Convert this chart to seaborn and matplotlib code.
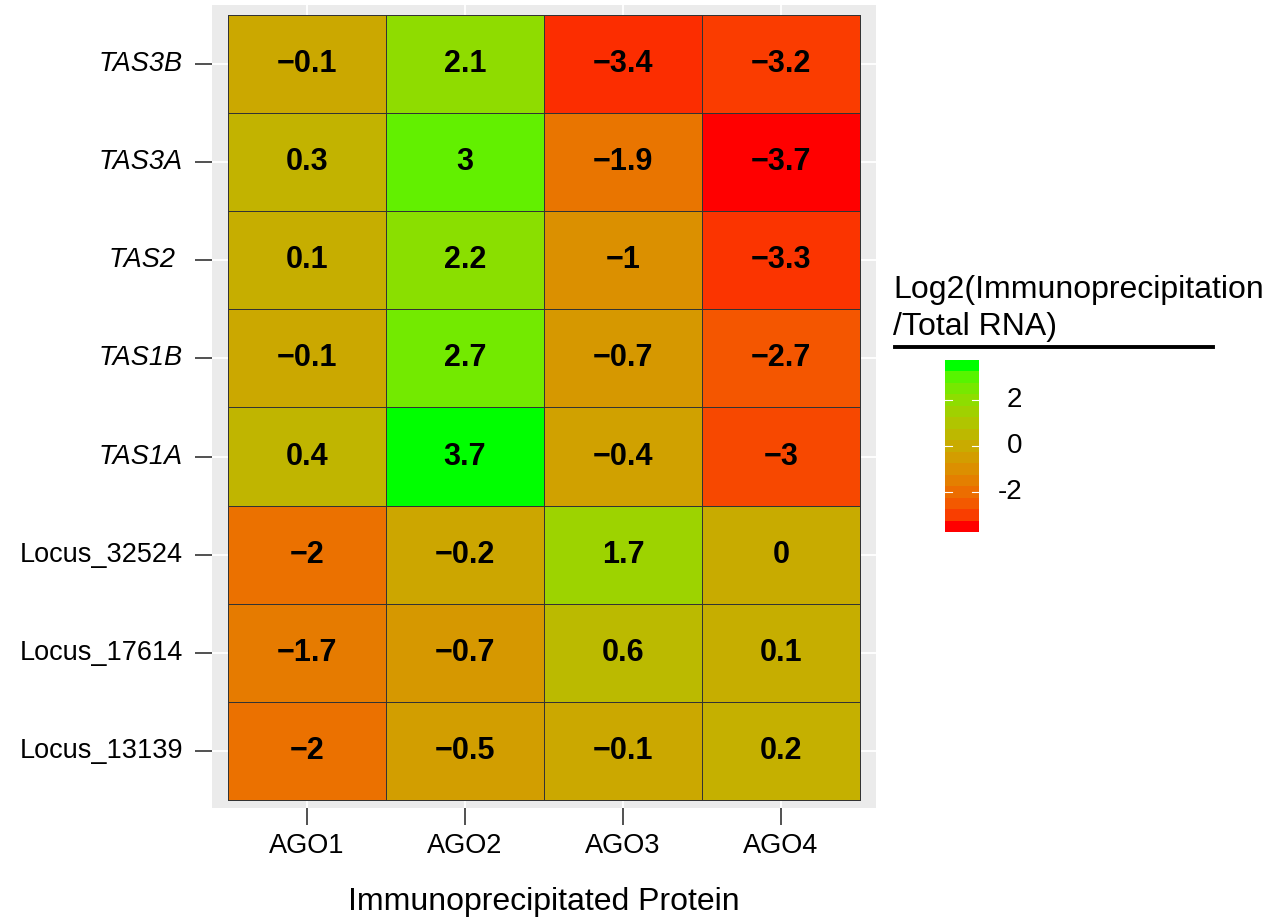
import numpy as np
import pandas as pd
import matplotlib
matplotlib.use("Agg")
import matplotlib.pyplot as plt
from matplotlib.colors import ListedColormap, Normalize
from matplotlib.cm import ScalarMappable
from matplotlib.lines import Line2D
import seaborn as sns

# ---- data ----------------------------------------------------------------
loci = ["TAS3B", "TAS3A", "TAS2 ", "TAS1B", "TAS1A",
        "Locus_32524", "Locus_17614", "Locus_13139"]
proteins = ["AGO1", "AGO2", "AGO3", "AGO4"]
ago1 = [-0.1, 0.3, 0.1, -0.1, 0.4, -2.0, -1.7, -2.0]
ago2 = [2.1, 3.0, 2.2, 2.7, 3.7, -0.2, -0.7, -0.5]
ago3 = [-3.4, -1.9, -1.0, -0.7, -0.4, 1.7, 0.6, -0.1]
ago4 = [-3.2, -3.7, -3.3, -2.7, -3.0, 0.0, 0.1, 0.2]
legend_ticks = [-2, 0, 2]
vmin, vmax = -3.7, 3.7

df = pd.DataFrame({"AGO1": ago1, "AGO2": ago2, "AGO3": ago3, "AGO4": ago4},
                  index=loci)[proteins]
labels = df.map(lambda v: f"{v:g}".replace("-", "\u2212"))


# ---- red -> green gradient interpolated in CIE Lab -------------------------
def _srgb_to_lab(rgb):
    rgb = np.asarray(rgb, float)
    lin = np.where(rgb <= 0.04045, rgb / 12.92, ((rgb + 0.055) / 1.055) ** 2.4)
    m = np.array([[0.4124, 0.3576, 0.1805],
                  [0.2126, 0.7152, 0.0722],
                  [0.0193, 0.1192, 0.9505]])
    xyz = m @ lin / np.array([0.95047, 1.0, 1.08883])
    f = np.where(xyz > 0.008856, np.cbrt(xyz), 7.787 * xyz + 16 / 116)
    return np.array([116 * f[1] - 16, 500 * (f[0] - f[1]), 200 * (f[1] - f[2])])


def _lab_to_srgb(lab):
    L, a, b = lab
    fy = (L + 16) / 116
    fx = fy + a / 500
    fz = fy - b / 200
    f = np.array([fx, fy, fz])
    xyz = np.where(f ** 3 > 0.008856, f ** 3, (f - 16 / 116) / 7.787)
    xyz = xyz * np.array([0.95047, 1.0, 1.08883])
    minv = np.array([[3.2406, -1.5372, -0.4986],
                     [-0.9689, 1.8758, 0.0415],
                     [0.0557, -0.2040, 1.0570]])
    lin = np.clip(minv @ xyz, 0, 1)
    rgb = np.where(lin <= 0.0031308, 12.92 * lin,
                   1.055 * lin ** (1 / 2.4) - 0.055)
    return np.clip(rgb, 0, 1)


lab_lo = _srgb_to_lab([1, 0, 0])
lab_hi = _srgb_to_lab([0, 1, 0])
cmap = ListedColormap([_lab_to_srgb(lab_lo + t * (lab_hi - lab_lo))
                       for t in np.linspace(0, 1, 256)])
step_cmap = ListedColormap([_lab_to_srgb(lab_lo + t * (lab_hi - lab_lo))
                            for t in np.linspace(0, 1, 15)])

# ---- figure --------------------------------------------------------------
plt.rcParams["font.family"] = ["Liberation Sans", "DejaVu Sans"]
fig = plt.figure(figsize=(12.7, 9.18), dpi=100)
ax = fig.add_axes([212 / 1270, 1 - 808 / 918, 664 / 1270, 803 / 918])
ax.set_facecolor("#EBEBEB")

sns.heatmap(df, ax=ax, cmap=cmap, vmin=vmin, vmax=vmax, cbar=False,
            annot=labels, fmt="", linewidths=0.6, linecolor="#333333",
            annot_kws=dict(fontsize=22, fontweight="bold", color="black"))

ax.set_xlim(-0.101, 4.101)
ax.set_ylim(8.082, -0.102)
for s in ax.spines.values():
    s.set_visible(False)
ax.set_axisbelow(True)
ax.grid(True, color="white", linewidth=1.3)
ax.tick_params(axis="both", length=12, width=1.2, color="#333333",
               labelsize=19.5, labelcolor="black")
ax.tick_params(axis="y", pad=9)
ax.tick_params(axis="x", pad=6)
ax.set_xticklabels(proteins, rotation=0)
ax.set_yticklabels(loci, rotation=0)
for t in ax.get_yticklabels():
    if t.get_text().startswith("TAS"):
        t.set_fontstyle("italic")
ax.set_xlabel("Immunoprecipitated Protein", fontsize=23, labelpad=20)
ax.set_ylabel("")

# ---- legend --------------------------------------------------------------
fig.text(893 / 1270, 1 - 275 / 918, "Log2(Immunoprecipitation\n/Total RNA)",
         fontsize=23, ha="left", va="top", linespacing=1.32)
fig.add_artist(Line2D([895 / 1270, 1213 / 1270], [1 - 347 / 918, 1 - 347 / 918],
                      transform=fig.transFigure, color="black", linewidth=2.8))

cax = fig.add_axes([945 / 1270, 1 - 532 / 918, 34 / 1270, 172 / 918])
sm = ScalarMappable(norm=Normalize(vmin, vmax), cmap=step_cmap)
cb = fig.colorbar(sm, cax=cax, ticks=legend_ticks)
cb.outline.set_visible(False)
cb.ax.tick_params(length=0, labelright=False)
ytr = cax.get_yaxis_transform()
for t in legend_ticks:
    cax.plot([0, 0.2], [t, t], color="white", lw=0.8, transform=ytr)
    cax.plot([0.8, 1.0], [t, t], color="white", lw=0.8, transform=ytr)
    cax.text(2.27, t, str(t), transform=ytr, ha="right", va="center",
             fontsize=20, clip_on=False)

fig.savefig("out.png", dpi=100)
